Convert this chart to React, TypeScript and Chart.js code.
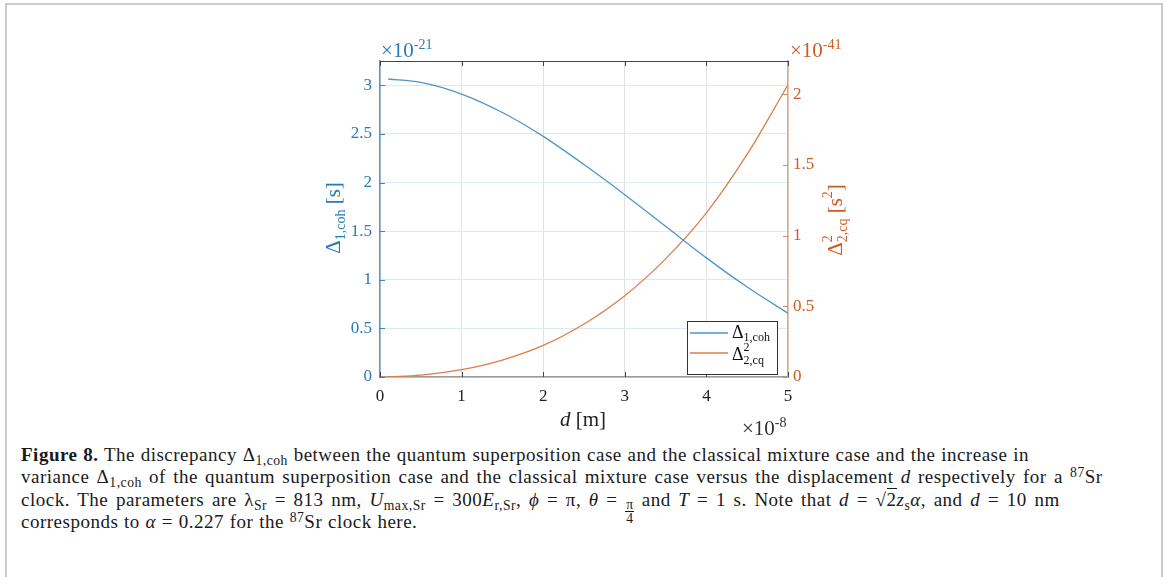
import React, { useEffect, useRef } from "react";
import { Chart, registerables } from "chart.js";

Chart.register(...registerables);

// displacement d, in units of 1e-8 m
const dValues = [0.1, 0.5, 1, 1.5, 2, 2.5, 3, 3.5, 4, 4.5, 5];
// Δ1,coh in units of 1e-21 s
const coherentValues = [3.065, 3.03, 2.91, 2.72, 2.475, 2.185, 1.875, 1.55, 1.225, 0.925, 0.655];
// Δ²2,cq in units of 1e-41 s²
const varianceValues = [0.0002, 0.013, 0.052, 0.12, 0.223, 0.375, 0.575, 0.835, 1.16, 1.575, 2.066];

const xTicks = [0, 1, 2, 3, 4, 5];
const leftTicks = [0, 0.5, 1, 1.5, 2, 2.5, 3];
const rightTicks = [0, 0.5, 1, 1.5, 2];

const FONT = "'Liberation Serif', 'Times New Roman', serif";
const BLUE_TEXT = "#2a7ab5";
const ORANGE_TEXT = "#d05a23";
const BLUE_LINE = "#4f95c8";
const ORANGE_LINE = "#dc7e4e";

type Seg = { t: string; size: number; dy?: number; italic?: boolean; stack?: boolean };

function segFont(s: Seg) {
  return `${s.italic ? "italic " : ""}${s.size}px ${FONT}`;
}

function richWidth(ctx: CanvasRenderingContext2D, segs: Seg[]) {
  let w = 0;
  let i = 0;
  while (i < segs.length) {
    const s = segs[i];
    ctx.font = segFont(s);
    let sw = ctx.measureText(s.t).width;
    if (s.stack && i + 1 < segs.length) {
      const n = segs[i + 1];
      ctx.font = segFont(n);
      sw = Math.max(sw, ctx.measureText(n.t).width);
      i += 2;
    } else i += 1;
    w += sw;
  }
  return w;
}

function drawRich(ctx: CanvasRenderingContext2D, segs: Seg[], x: number, y: number, color: string) {
  ctx.fillStyle = color;
  ctx.textBaseline = "alphabetic";
  ctx.textAlign = "left";
  let cx = x;
  let i = 0;
  while (i < segs.length) {
    const s = segs[i];
    ctx.font = segFont(s);
    let sw = ctx.measureText(s.t).width;
    ctx.fillText(s.t, cx, y + (s.dy || 0));
    if (s.stack && i + 1 < segs.length) {
      const n = segs[i + 1];
      ctx.font = segFont(n);
      ctx.fillText(n.t, cx, y + (n.dy || 0));
      sw = Math.max(sw, ctx.measureText(n.t).width);
      i += 2;
    } else i += 1;
    cx += sw;
  }
}

const overlayPlugin = {
  id: "overlay",
  afterDraw(chart: any) {
    const ctx: CanvasRenderingContext2D = chart.ctx;
    const { left, right, top, bottom } = chart.chartArea;
    const xs = chart.scales.x;
    const yl = chart.scales.y;
    const yr = chart.scales.y1;
    ctx.save();
    // box top line
    ctx.lineWidth = 1;
    ctx.strokeStyle = "#444";
    ctx.beginPath();
    ctx.moveTo(left, top + 0.5);
    ctx.lineTo(right, top + 0.5);
    ctx.stroke();
    // inward ticks
    ctx.beginPath();
    for (const v of xTicks) {
      const px = Math.round(xs.getPixelForValue(v)) + 0.5;
      ctx.moveTo(px, bottom);
      ctx.lineTo(px, bottom - 5);
      ctx.moveTo(px, top);
      ctx.lineTo(px, top + 5);
    }
    ctx.stroke();
    ctx.strokeStyle = "#3d86bd";
    ctx.beginPath();
    for (const v of leftTicks) {
      const py = Math.round(yl.getPixelForValue(v)) + 0.5;
      ctx.moveTo(left, py);
      ctx.lineTo(left + 5, py);
    }
    ctx.stroke();
    ctx.strokeStyle = "#d48a5c";
    ctx.beginPath();
    for (const v of rightTicks) {
      const py = Math.round(yr.getPixelForValue(v)) + 0.5;
      ctx.moveTo(right, py);
      ctx.lineTo(right - 5, py);
    }
    ctx.stroke();

    // exponent labels
    drawRich(ctx, [{ t: "×10", size: 21 }, { t: "-21", size: 14, dy: -8 }], 381, 57, BLUE_TEXT);
    drawRich(ctx, [{ t: "×10", size: 21 }, { t: "-41", size: 14, dy: -8 }], 790, 57, ORANGE_TEXT);
    drawRich(ctx, [{ t: "×10", size: 21 }, { t: "-8", size: 14, dy: -8 }], 742, 435, "#333");

    // x title
    const xt: Seg[] = [{ t: "d", size: 21, italic: true }, { t: " [m]", size: 21 }];
    drawRich(ctx, xt, 583 - richWidth(ctx, xt) / 2, 426, "#222");

    // left title
    const lt: Seg[] = [{ t: "Δ", size: 21 }, { t: "1,coh", size: 14, dy: 5 }, { t: " [s]", size: 21 }];
    ctx.save();
    ctx.translate(340, 218);
    ctx.rotate(-Math.PI / 2);
    drawRich(ctx, lt, -richWidth(ctx, lt) / 2, 0, BLUE_TEXT);
    ctx.restore();

    // right title
    const rt: Seg[] = [
      { t: "Δ", size: 21 },
      { t: "2", size: 14, dy: -10, stack: true },
      { t: "2,cq", size: 14, dy: 5 },
      { t: " [s", size: 21 },
      { t: "2", size: 14, dy: -10 },
      { t: "]", size: 21 },
    ];
    ctx.save();
    ctx.translate(842, 220);
    ctx.rotate(-Math.PI / 2);
    drawRich(ctx, rt, -richWidth(ctx, rt) / 2, 0, ORANGE_TEXT);
    ctx.restore();

    // legend
    ctx.fillStyle = "#fff";
    ctx.fillRect(687.5, 321.5, 90, 53);
    ctx.strokeStyle = "#333";
    ctx.lineWidth = 1;
    ctx.strokeRect(687.5, 321.5, 90, 53);
    ctx.lineWidth = 1.3;
    ctx.strokeStyle = BLUE_LINE;
    ctx.beginPath();
    ctx.moveTo(690, 333);
    ctx.lineTo(728, 333);
    ctx.stroke();
    ctx.strokeStyle = ORANGE_LINE;
    ctx.beginPath();
    ctx.moveTo(690, 353);
    ctx.lineTo(728, 353);
    ctx.stroke();
    drawRich(ctx, [{ t: "Δ", size: 18 }, { t: "1,coh", size: 12, dy: 3 }], 732, 338, "#111");
    drawRich(
      ctx,
      [{ t: "Δ", size: 18 }, { t: "2", size: 12, dy: -9, stack: true }, { t: "2,cq", size: 12, dy: 4 }],
      732,
      360,
      "#111"
    );
    ctx.restore();
  },
};

function ChartCanvas() {
  const ref = useRef<HTMLCanvasElement | null>(null);
  useEffect(() => {
    if (!ref.current) return;
    const tickFont = { family: FONT, size: 17 };
    const chart = new Chart(ref.current, {
      type: "line",
      data: {
        datasets: [
          {
            label: "Δ1,coh",
            data: dValues.map((d, i) => ({ x: d, y: coherentValues[i] })),
            borderColor: BLUE_LINE,
            borderWidth: 1.3,
            pointRadius: 0,
            cubicInterpolationMode: "monotone",
            yAxisID: "y",
          },
          {
            label: "Δ²2,cq",
            data: dValues.map((d, i) => ({ x: d, y: varianceValues[i] })),
            borderColor: ORANGE_LINE,
            borderWidth: 1.3,
            pointRadius: 0,
            cubicInterpolationMode: "monotone",
            yAxisID: "y1",
          },
        ],
      },
      options: {
        responsive: false,
        animation: false,
        devicePixelRatio: 1,
        layout: { padding: { left: 300, right: 317, top: 61, bottom: 23 } },
        plugins: { legend: { display: false }, tooltip: { enabled: false } },
        scales: {
          x: {
            type: "linear",
            min: 0,
            max: 5,
            afterBuildTicks: (s: any) => {
              s.ticks = xTicks.map((v) => ({ value: v }));
            },
            afterFit: (s: any) => {
              s.height = 40;
            },
            ticks: { font: tickFont, color: "#222", padding: 9, maxRotation: 0, callback: (v: any) => String(v) },
            grid: { color: "#e2e2e2", drawTicks: false },
            border: { color: "#9a9a9a", width: 1.5 },
          },
          y: {
            type: "linear",
            position: "left",
            min: 0,
            max: 3.25,
            afterBuildTicks: (s: any) => {
              s.ticks = leftTicks.map((v) => ({ value: v }));
            },
            afterFit: (s: any) => {
              s.width = 80;
            },
            ticks: { font: tickFont, color: BLUE_TEXT, padding: 8, callback: (v: any) => String(v) },
            grid: { color: "#dce9f3", drawTicks: false },
            border: { color: "#5596c6", width: 1.5 },
          },
          y1: {
            type: "linear",
            position: "right",
            min: 0,
            max: 2.234,
            afterBuildTicks: (s: any) => {
              s.ticks = rightTicks.map((v) => ({ value: v }));
            },
            afterFit: (s: any) => {
              s.width = 60;
            },
            ticks: { font: tickFont, color: ORANGE_TEXT, padding: 5, callback: (v: any) => String(v) },
            grid: { drawOnChartArea: false, drawTicks: false },
            border: { color: "#dbab88", width: 1.5 },
          },
        },
      } as any,
      plugins: [overlayPlugin],
    });
    return () => chart.destroy();
  }, []);
  return (
    <canvas
      ref={ref}
      width={1165}
      height={440}
      style={{ position: "absolute", left: 0, top: 0, width: 1165, height: 440 }}
    />
  );
}

const sub: React.CSSProperties = { fontSize: "0.72em", position: "relative", top: "0.3em", verticalAlign: "baseline", lineHeight: 0 };
const sup: React.CSSProperties = { fontSize: "0.72em", position: "relative", top: "-0.45em", verticalAlign: "baseline", lineHeight: 0 };
const lineStyle: React.CSSProperties = { height: 22.3, whiteSpace: "nowrap" };

function Caption() {
  return (
    <div
      style={{
        position: "absolute",
        left: 21,
        top: 444,
        fontFamily: FONT,
        fontSize: 19,
        letterSpacing: "0.5px",
        wordSpacing: "0.5px",
        lineHeight: "22.3px",
        color: "#1a1a1a",
      }}
    >
      <div style={lineStyle}>
        <b>Figure 8.</b> The discrepancy Δ<span style={sub}>1,coh</span> between the quantum superposition case and the
        classical mixture case and the increase in
      </div>
      <div style={{ ...lineStyle, wordSpacing: "2px" }}>
        variance Δ<span style={sub}>1,coh</span> of the quantum superposition case and the classical mixture case versus
        the displacement <i>d</i> respectively for a <span style={sup}>87</span>Sr
      </div>
      <div style={{ ...lineStyle, wordSpacing: "2.4px" }}>
        clock. The parameters are λ<span style={sub}>Sr</span> = 813 nm, <i>U</i>
        <span style={sub}>max,Sr</span> = 300<i>E</i>
        <span style={sub}>r,Sr</span>, <i>ϕ</i> = π, <i>θ</i> ={" "}
        <span
          style={{
            display: "inline-flex",
            flexDirection: "column",
            alignItems: "center",
            fontSize: "0.72em",
            lineHeight: "0.95em",
            verticalAlign: "-0.25em",
            letterSpacing: 0,
          }}
        >
          <span style={{ borderBottom: "1px solid #1a1a1a", padding: "0 1px" }}>π</span>
          <span>4</span>
        </span>{" "}
        and <i>T</i> = 1 s. Note that <i>d</i> = √<span style={{ borderTop: "1px solid #1a1a1a" }}>2</span>
        <i>z</i>
        <span style={sub}>s</span>
        <i>α</i>, and <i>d</i> = 10 nm
      </div>
      <div style={lineStyle}>
        corresponds to <i>α</i> = 0.227 for the <span style={sup}>87</span>Sr clock here.
      </div>
    </div>
  );
}

export default function App() {
  return (
    <div style={{ position: "absolute", left: 0, top: 0, width: 1165, height: 577, overflow: "hidden", background: "#fff" }}>
      <div
        style={{
          position: "absolute",
          left: 5,
          top: 3,
          width: 1158,
          height: 574,
          boxSizing: "border-box",
          borderLeft: "2px solid #cccccc",
          borderTop: "2px solid #cccccc",
          borderRight: "2px solid #cccccc",
        }}
      />
      <ChartCanvas />
      <Caption />
    </div>
  );
}
